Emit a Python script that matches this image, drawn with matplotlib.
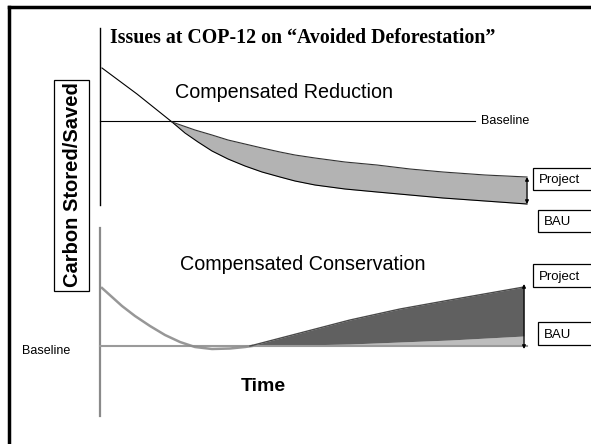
import numpy as np
import matplotlib.pyplot as plt
from matplotlib.patches import Rectangle

# ------------------------------------------------------------
# data (x = time, y = carbon, in picture units;
# y grows downward like the slide)
# ------------------------------------------------------------
# upper panel: compensated reduction
red_bau_t = [102, 137, 172, 185, 198, 212, 228, 245, 262, 280, 295, 315, 345, 377, 410, 443, 485, 527]
red_bau_c = [68, 94, 122, 133, 142, 151, 159, 166, 172, 177, 181, 185, 189, 192, 195, 198, 201, 204]
red_proj_t = [172, 195, 212, 228, 245, 262, 280, 295, 315, 345, 377, 410, 443, 485, 527]
red_proj_c = [122, 130, 135, 140, 144, 148, 152, 155, 158, 162, 165, 169, 172, 175, 177]
red_baseline = 121

# lower panel: compensated conservation
con_hist_t = [102, 112, 122, 135, 150, 165, 180, 195, 212, 230, 245, 252]
con_hist_c = [288, 297, 306, 316, 326, 335, 342, 347, 349, 348.5, 347, 346]
con_proj_t = [250, 300, 350, 400, 450, 524]
con_proj_c = [346, 333, 320, 309, 300, 287]
con_bau_t = [250, 300, 350, 400, 450, 524]
con_bau_c = [346, 345, 344, 342, 340, 336]
con_baseline = 346

fig = plt.figure(figsize=(5.91, 4.44), dpi=100)
ax = fig.add_axes([0, 0, 1, 1])
ax.set_xlim(0, 591)
ax.set_ylim(444, 0)
ax.axis('off')

sans = 'Liberation Sans'
serif = 'Liberation Serif'

# slide frame
ax.plot([9, 9], [444, 7], color='black', lw=2.5, solid_capstyle='projecting')
ax.plot([9, 591], [7, 7], color='black', lw=2.5, solid_capstyle='projecting')

ax.text(110, 38, 'Issues at COP-12 on \u201cAvoided Deforestation\u201d',
        fontfamily=serif, fontweight='bold', fontsize=14.3, va='center', ha='left')

# ------------------------------------------------------------
# upper panel
# ------------------------------------------------------------
ax.plot([100, 100], [28, 205], color='black', lw=1)
ax.plot([100, 475], [red_baseline, red_baseline], color='black', lw=0.8)
ax.text(481, 121, 'Baseline', fontfamily=sans, fontsize=9, va='center')

bau_interp = np.interp(red_proj_t, red_bau_t, red_bau_c)
ax.fill_between(red_proj_t, red_proj_c, bau_interp, color='#b3b3b3', lw=0)
ax.plot(red_bau_t, red_bau_c, color='black', lw=0.8)
ax.plot(red_proj_t, red_proj_c, color='#333333', lw=0.8)
ax.annotate('', xy=(red_proj_t[-1], red_proj_c[-1]), xytext=(red_bau_t[-1], red_bau_c[-1]),
            arrowprops=dict(arrowstyle='<|-|>', color='black', lw=0.9,
                            mutation_scale=5, shrinkA=0, shrinkB=0))

ax.text(175, 92, 'Compensated Reduction', fontfamily=sans, fontsize=14.2, va='center')

# ------------------------------------------------------------
# lower panel
# ------------------------------------------------------------
ax.plot([100, 100], [228, 416], color='#8a8a8a', lw=1.6)
ax.plot([100, 527], [con_baseline, con_baseline], color='#9a9a9a', lw=1.5)
ax.text(22, 351, 'Baseline', fontfamily=sans, fontsize=9, va='center')

ax.plot(con_hist_t, con_hist_c, color='#8c8c8c', lw=1.8, alpha=0.9)
ax.fill_between(con_bau_t, con_bau_c, con_baseline, color='#bdbdbd', lw=0)
ax.fill_between(con_proj_t, con_proj_c, con_bau_c, color='#606060', lw=0)
ax.plot(con_proj_t, con_proj_c, color='#4a4a4a', lw=1)
ax.annotate('', xy=(con_proj_t[-1], con_proj_c[-1] - 3), xytext=(con_bau_t[-1], 349),
            arrowprops=dict(arrowstyle='<|-|>', color='black', lw=0.9,
                            mutation_scale=5, shrinkA=0, shrinkB=0))

ax.text(180, 264, 'Compensated Conservation', fontfamily=sans, fontsize=14.2, va='center')
ax.text(241, 386, 'Time', fontfamily=sans, fontweight='bold', fontsize=14, va='center')

# y label in its box
ax.add_patch(Rectangle((54, 80), 35, 211, fill=False, ec='black', lw=0.9))
ax.text(72, 185, 'Carbon Stored/Saved', fontfamily=sans, fontweight='bold',
        fontsize=14.5, rotation=90, va='center', ha='center')

# legend boxes on the right edge
boxes = [(533, 168, 22, 'Project'), (538, 210, 22, 'BAU'),
         (533, 264, 23, 'Project'), (538, 322, 23, 'BAU')]
for bx, by, bh, lab in boxes:
    ax.add_patch(Rectangle((bx, by), 80, bh, fill=True, fc='white', ec='black', lw=0.9))
    ax.text(bx + 6, by + bh / 2 + 1, lab, fontfamily=sans, fontsize=9.5, va='center')

fig.savefig('out.png', dpi=100)
